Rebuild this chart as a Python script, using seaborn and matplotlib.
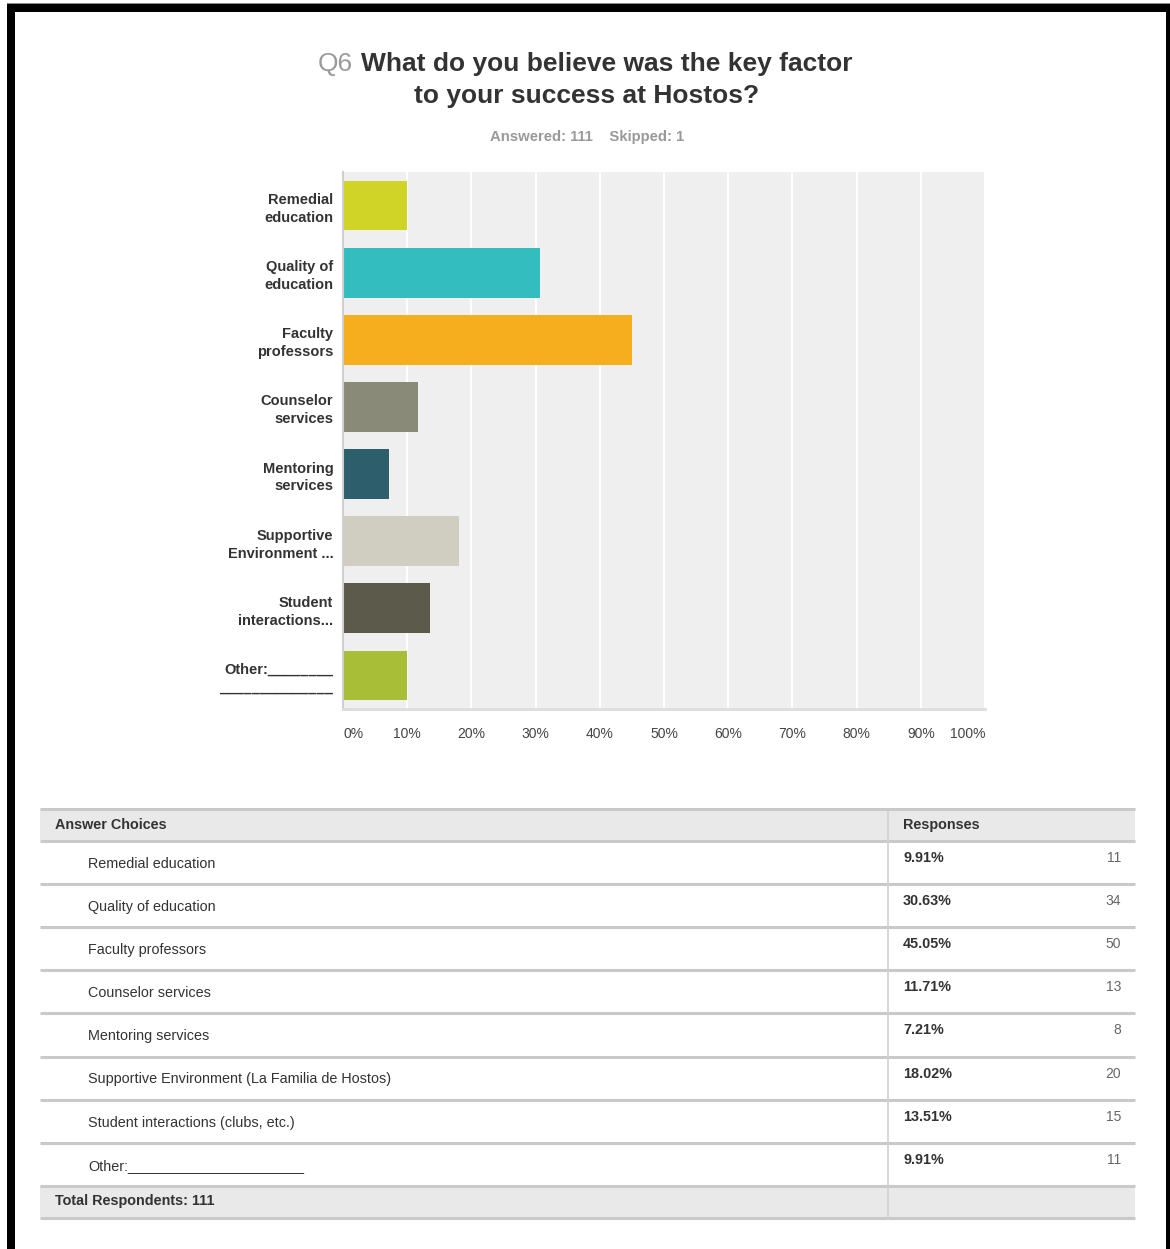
import matplotlib
matplotlib.use("Agg")
import matplotlib.pyplot as plt
import seaborn as sns
import pandas as pd
from matplotlib.patches import Rectangle

# ---------------- data ----------------
bar_labels = ["Remedial\neducation", "Quality of\neducation", "Faculty\nprofessors",
              "Counselor\nservices", "Mentoring\nservices", "Supportive\nEnvironment ...",
              "Student\ninteractions...", "Other:________\n______________"]
table_labels = ["Remedial education", "Quality of education", "Faculty professors",
                "Counselor services", "Mentoring services",
                "Supportive Environment (La Familia de Hostos)",
                "Student interactions (clubs, etc.)", "Other:______________________"]
percents = [9.91, 30.63, 45.05, 11.71, 7.21, 18.02, 13.51, 9.91]
counts = [11, 34, 50, 13, 8, 20, 15, 11]
bar_colors = ["#CFD427", "#33BDBE", "#F6AE1F", "#8A8A78", "#2C5F6B",
              "#D0CEC0", "#5C5A4A", "#A8BE37"]
x_ticks = [0, 10, 20, 30, 40, 50, 60, 70, 80, 90, 100]
x_tick_labels = ["0%", "10%", "20%", "30%", "40%", "50%", "60%", "70%", "80%", "90%", "100%"]
title_q = "Q6"
title_line1 = "What do you believe was the key factor"
title_line2 = "to your success at Hostos?"
subtitle = "Answered: 111    Skipped: 1"
header_left = "Answer Choices"
header_right = "Responses"
total_text = "Total Respondents: 111"

# ---------------- figure ----------------
sns.set_theme(style="white")
plt.rcParams["font.family"] = ["Liberation Sans", "DejaVu Sans"]

W, H = 1170, 1249
fig = plt.figure(figsize=(W / 100, H / 100), dpi=100)
fig.patch.set_facecolor("white")

# overlay axes in pixel coordinates
ov = fig.add_axes([0, 0, 1, 1], zorder=0)
ov.set_xlim(0, W)
ov.set_ylim(H, 0)
ov.axis("off")

# bar chart axes
L, R, T, B = 343, 985, 172, 709
ax = fig.add_axes([L / W, 1 - B / H, (R - L) / W, (B - T) / H], zorder=2)
df = pd.DataFrame({"label": bar_labels, "pct": percents})
sns.barplot(data=df, y="label", x="pct", hue="label", palette=bar_colors,
            legend=False, ax=ax, width=0.74, saturation=1, edgecolor="none")
ax.set_facecolor("#EFEFEF")
ax.set_xlim(0, 100)
ax.set_xticks(x_ticks)
ax.set_xticklabels(x_tick_labels)
ax.set_xlabel("")
ax.set_ylabel("")
ax.xaxis.grid(True, color="white", linewidth=1.6)
ax.set_axisbelow(True)
for s in ["top", "right"]:
    ax.spines[s].set_visible(False)
ax.spines["left"].set_color("#CFCFCF")
ax.spines["left"].set_linewidth(1.5)
ax.spines["bottom"].set_color("#DCDCDC")
ax.spines["bottom"].set_linewidth(2)
ax.tick_params(axis="x", length=0, pad=13, labelsize=10, labelcolor="#444444")
ax.tick_params(axis="y", length=0, pad=7, labelsize=10.5, labelcolor="#333333")
for t in ax.get_yticklabels():
    t.set_fontweight("bold")
    t.set_linespacing(1.35)
xt = ax.get_xticklabels()
xt[0].set_ha("left")
xt[-1].set_ha("right")

# ---------------- titles ----------------
ov.text(353, 64, title_q, fontsize=19, color="#9A9A9A", ha="right", va="center")
ov.text(361, 64, title_line1, fontsize=19, color="#333333", fontweight="bold",
        ha="left", va="center")
ov.text(587, 96, title_line2, fontsize=19, color="#333333", fontweight="bold",
        ha="center", va="center")
ov.text(587, 137, subtitle, fontsize=10.7, color="#999999", fontweight="bold",
        ha="center", va="center")

# ---------------- table ----------------
TL, TR, DIV = 40, 1135, 888
line_col = "#C9C9C9"
hdr_bg = "#E9E9E9"
# header
ov.add_patch(Rectangle((TL, 810), TR - TL, 30, facecolor=hdr_bg, edgecolor="none"))
ov.plot([TL, TR], [809, 809], color=line_col, lw=2.2, solid_capstyle="butt")
ov.text(55, 825, header_left, fontsize=10.4, fontweight="bold", color="#333333", va="center")
ov.text(903, 825, header_right, fontsize=10.4, fontweight="bold", color="#333333", va="center")
row_top = 841
row_h = 43.1
for i, (lab, p, c) in enumerate(zip(table_labels, percents, counts)):
    y0 = row_top + i * row_h
    ov.plot([TL, TR], [y0, y0], color=line_col, lw=2.2, solid_capstyle="butt")
    ov.text(88, y0 + 23, lab, fontsize=10.4, color="#333333", va="center")
    ov.text(903, y0 + 17, f"{p:.2f}%", fontsize=10.4, fontweight="bold",
            color="#333333", va="center")
    ov.text(1121, y0 + 17, str(c), fontsize=10, color="#666666", va="center", ha="right")
ytot = row_top + len(table_labels) * row_h
ov.add_patch(Rectangle((TL, ytot), TR - TL, 31, facecolor=hdr_bg, edgecolor="none"))
ov.plot([TL, TR], [ytot, ytot], color=line_col, lw=2.2, solid_capstyle="butt")
ov.plot([TL, TR], [ytot + 32, ytot + 32], color=line_col, lw=2.2, solid_capstyle="butt")
ov.text(55, ytot + 15, total_text, fontsize=10.4, fontweight="bold", color="#333333",
        va="center")
ov.plot([DIV, DIV], [809, ytot + 32], color="#D0D0D0", lw=1.2)

# ---------------- black frame ----------------
ov.add_patch(Rectangle((7, 3), W - 7, 1.5, facecolor="#888888", edgecolor="none"))
ov.add_patch(Rectangle((7, 4), W - 7, 8, facecolor="black", edgecolor="none"))
ov.add_patch(Rectangle((7, 4), 7.5, H, facecolor="black", edgecolor="none"))
ov.add_patch(Rectangle((1166, 4), 5, H, facecolor="black", edgecolor="none"))

fig.savefig("out.png", dpi=100, facecolor="white")
